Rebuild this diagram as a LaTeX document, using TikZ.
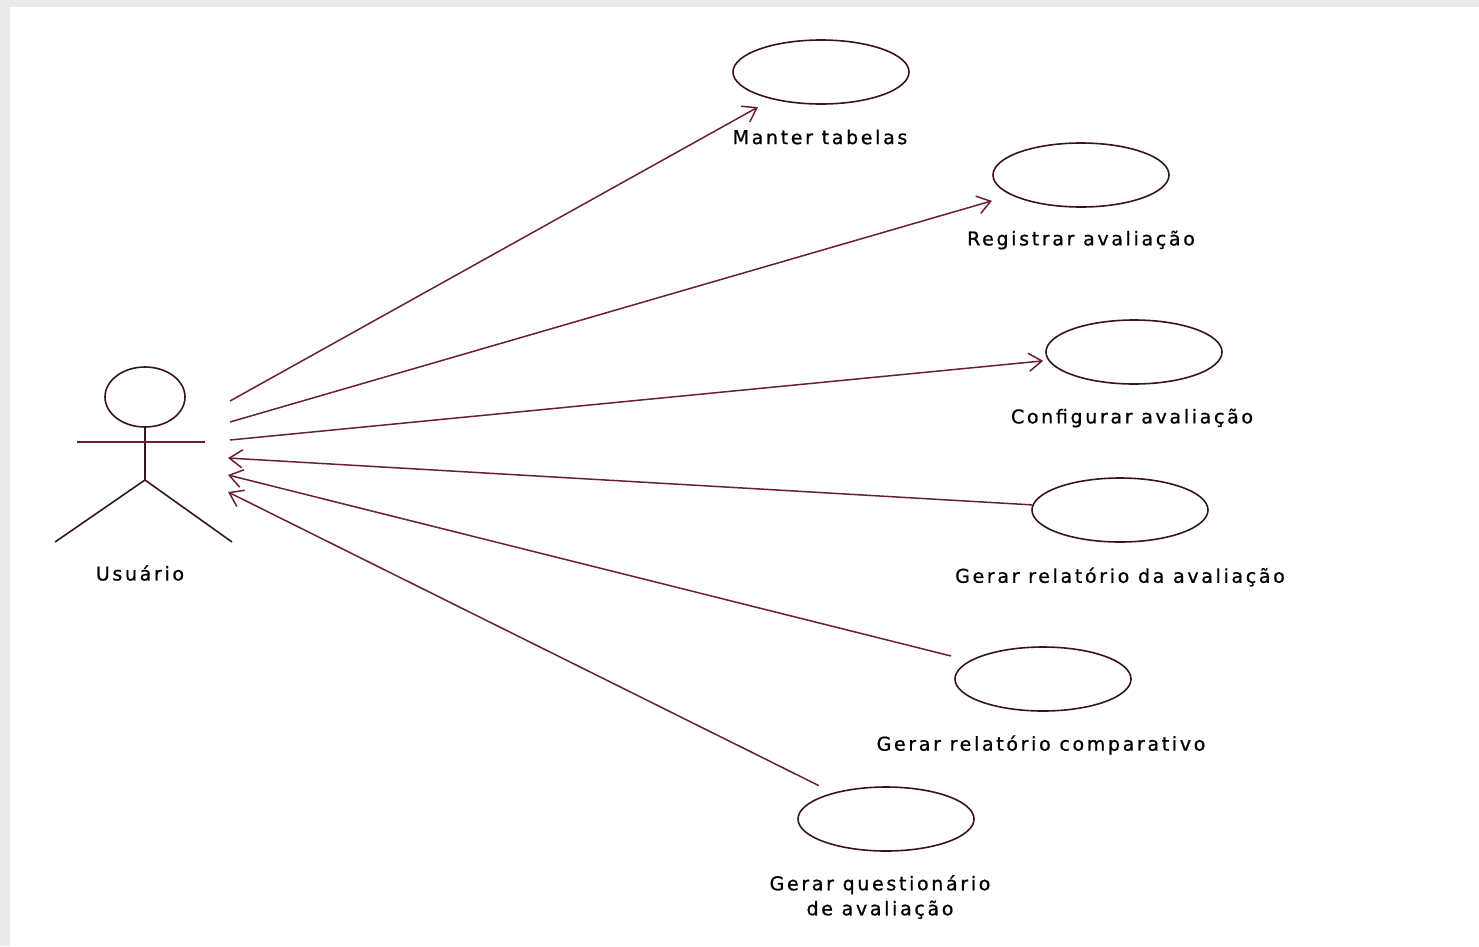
\documentclass[tikz,border=0pt]{standalone}
\usepackage{fontspec}
\setmainfont[LetterSpace=14,FakeBold=0.8]{DejaVu Sans}
\usetikzlibrary{shapes.geometric,arrows.meta}
\definecolor{lnc}{RGB}{105,30,60}
\definecolor{elc}{RGB}{55,20,35}
\definecolor{band}{RGB}{234,234,234}
\tikzset{
  usecase/.style={ellipse, draw=elc, line width=1.6pt, minimum width=176pt, minimum height=64pt, inner sep=0pt},
  uclabel/.style={font=\fontsize{19pt}{25pt}\selectfont, text=black, align=center, inner sep=0pt},
  assoc/.style={draw=lnc, line width=1.5pt, -{Straight Barb[length=13pt,width=18pt,line width=1.5pt]}},
  actorline/.style={draw=elc, line width=1.6pt}
}
\begin{document}
\begin{tikzpicture}[x=1pt,y=-1pt]
\useasboundingbox (0,0) rectangle (1479,946);
\fill[white] (0,0) rectangle (1479,946);
\fill[band] (0,0) rectangle (10,946);
\fill[band] (0,0) rectangle (1479,7);
% actor
\node[ellipse, draw=elc, line width=1.6pt, minimum width=80pt, minimum height=60pt, inner sep=0pt] (head) at (145,397) {};
\coordinate (hip) at (145,480);
\coordinate (armL) at (77,442);
\coordinate (armR) at (205,442);
\coordinate (footL) at (55,542);
\coordinate (footR) at (232,542);
\draw[actorline] (head.south) -- (hip);
\draw[draw=lnc, line width=1.6pt] (armL) -- (armR);
\draw[actorline] (footL) -- (hip) -- (footR);
\node[uclabel] (usr) at (140,573) {Usuário};
% use cases
\node[usecase] (uc1) at (821,72) {};
\node[usecase] (uc2) at (1081,175) {};
\node[usecase] (uc3) at (1134,352) {};
\node[usecase] (uc4) at (1120,510) {};
\node[usecase] (uc5) at (1043,679) {};
\node[usecase] (uc6) at (886,819) {};
\node[uclabel] (l1) at (820,137) {Manter tabelas};
\node[uclabel] (l2) at (1081,240) {Registrar avaliação};
\node[uclabel] (l3) at (1132,418) {Configurar avaliação};
\node[uclabel] (l4) at (1120,577) {Gerar relatório da avaliação};
\node[uclabel] (l5) at (1041,745) {Gerar relatório comparativo};
\node[uclabel] (l6) at (880,897) {Gerar questionário\\de avaliação};
% actor ends
\coordinate (a1) at (230,401);
\coordinate (a2) at (230,422);
\coordinate (a3) at (230,440);
\coordinate (a4) at (228,458);
\coordinate (a5) at (228,475);
\coordinate (a6) at (228,492);
\draw[assoc, shorten >=16pt] (a1) -- (uc1);
\draw[assoc, shorten >=20pt] (a2) -- (uc2);
\draw[assoc, shorten >=5pt] (a3) -- (uc3);
\draw[assoc] (uc4) -- (a4);
\draw[assoc, shorten <=19pt] (uc5) -- (a5);
\draw[assoc, shorten <=16pt] (uc6) -- (a6);
\end{tikzpicture}
\end{document}
